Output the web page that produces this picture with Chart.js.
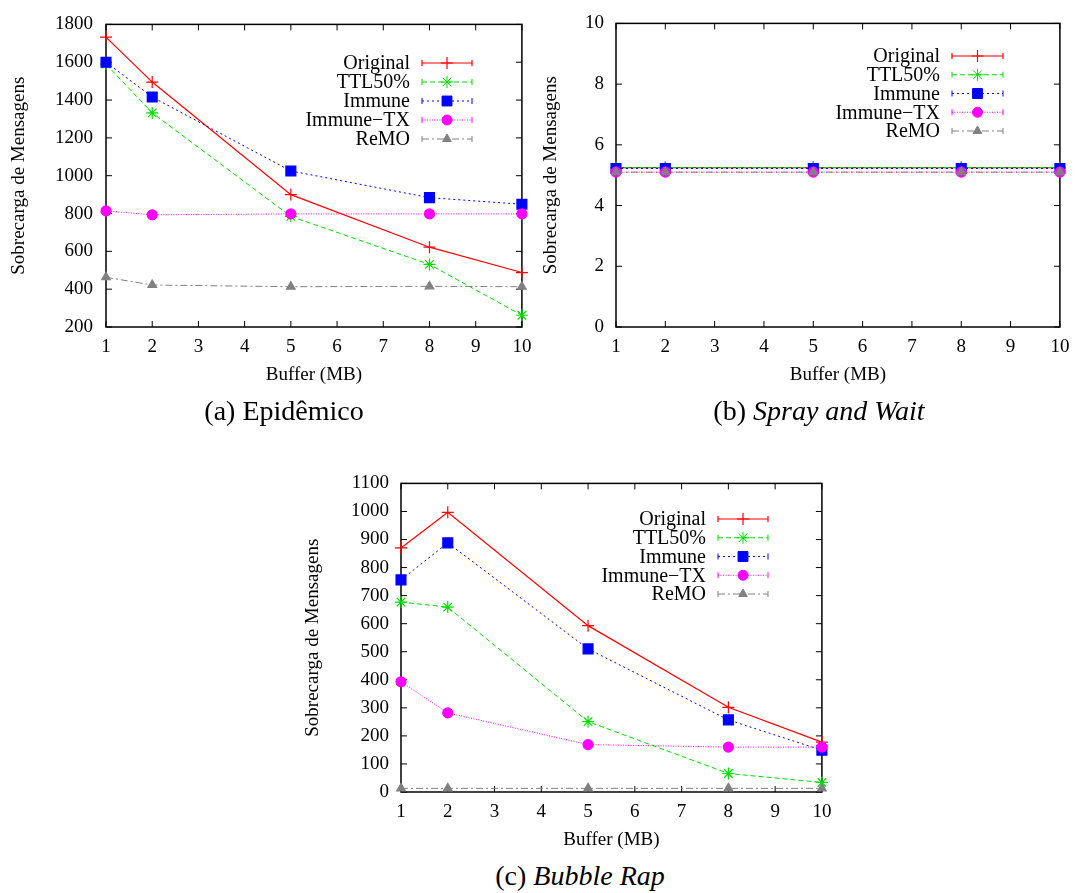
<!DOCTYPE html>
<html>
<head>
<meta charset="utf-8">
<script src="https://cdn.jsdelivr.net/npm/chart.js@4"></script>
<style>
  body { margin: 0; background: #fff; width: 1078px; height: 893px; position: relative; overflow: hidden; }
  canvas { position: absolute; }
  .cap { position: absolute; font-family: "Liberation Serif", "Times New Roman", serif; font-size: 28px; color: #000;
         transform: translateX(-50%); white-space: nowrap; line-height: 1; }
  .cap i { font-style: italic; }
</style>
</head>
<body>
<canvas id="epi" width="540" height="400" style="left:0px;top:0px"></canvas>
<canvas id="sw" width="538" height="400" style="left:540px;top:0px"></canvas>
<canvas id="br" width="540" height="400" style="left:300px;top:460px"></canvas>
<div class="cap" style="left:284px;top:397px">(a) Epidêmico</div>
<div class="cap" style="left:819px;top:397px">(b) <i>Spray and Wait</i></div>
<div class="cap" style="left:580px;top:862px">(c) <i>Bubble Rap</i></div>
<script>
// buffer sizes (MB) on the x axis
const buffers = [1, 2, 5, 8, 10];
const xTicks = [1, 2, 3, 4, 5, 6, 7, 8, 9, 10];
const seriesNames = ['Original', 'TTL50%', 'Immune', 'Immune\u2212TX', 'ReMO'];

// (a) Epidemico
const epiOriginal = [1733, 1495, 900, 622, 488];
const epiTTL50 = [1590, 1332, 785, 531, 262];
const epiImmune = [1600, 1416, 1025, 884, 849];
const epiImmuneTX = [814, 793, 798, 798, 798];
const epiReMO = [463, 422, 413, 415, 413];
const epiYTicks = [200, 400, 600, 800, 1000, 1200, 1400, 1600, 1800];

// (b) Spray and Wait
const swOriginal = [5.25, 5.25, 5.25, 5.25, 5.25];
const swTTL50 = [5.25, 5.25, 5.25, 5.25, 5.25];
const swImmune = [5.22, 5.22, 5.22, 5.22, 5.22];
const swImmuneTX = [5.1, 5.1, 5.1, 5.1, 5.1];
const swReMO = [5.1, 5.1, 5.1, 5.1, 5.1];
const swYTicks = [0, 2, 4, 6, 8, 10];

// (c) Bubble Rap
const brOriginal = [870, 997, 593, 302, 178];
const brTTL50 = [677, 659, 251, 66, 34];
const brImmune = [756, 888, 510, 257, 149];
const brImmuneTX = [393, 282, 169, 160, 160];
const brReMO = [13, 13, 13, 13, 13];
const brYTicks = [0, 100, 200, 300, 400, 500, 600, 700, 800, 900, 1000, 1100];

const FONT = '"Liberation Serif", "Times New Roman", serif';
Chart.defaults.font.family = FONT;
Chart.defaults.font.size = 19;
Chart.defaults.color = '#000';

// gnuplot-like line styles
const styles = [
  { color: '#ff0000', dash: [], point: 'cross', r: 6, w: 1.2 },
  { color: '#00dd00', dash: [5, 3], point: 'star', r: 6, w: 1 },
  { color: '#0000ff', dash: [2, 3], point: 'rect', r: 7, w: 1 },
  { color: '#ff00ff', dash: [1, 1.5], point: 'circle', r: 5, w: 1 },
  { color: '#808080', dash: [7, 3, 2, 3], point: 'triangle', r: 5, w: 1 }
];

// border box + inward ticks on all four sides
const frame = {
  id: 'frame',
  beforeDatasetsDraw(chart) {
    const { ctx, chartArea: a, scales: { x, y } } = chart;
    const t = 6;
    ctx.save();
    ctx.strokeStyle = '#000';
    ctx.lineWidth = 1;
    ctx.beginPath();
    x.ticks.forEach(tk => {
      const p = x.getPixelForValue(tk.value);
      ctx.moveTo(p, a.bottom); ctx.lineTo(p, a.bottom - t);
      ctx.moveTo(p, a.top); ctx.lineTo(p, a.top + t);
    });
    y.ticks.forEach(tk => {
      const p = y.getPixelForValue(tk.value);
      ctx.moveTo(a.left, p); ctx.lineTo(a.left + t, p);
      ctx.moveTo(a.right, p); ctx.lineTo(a.right - t, p);
    });
    ctx.stroke();
    ctx.lineWidth = 1.5;
    ctx.strokeRect(a.left, a.top, a.right - a.left, a.bottom - a.top);
    ctx.restore();
  }
};

// gnuplot style key: right aligned text, then sample line with marker and caps
const gpKey = {
  id: 'gpKey',
  afterDatasetsDraw(chart, args, o) {
    const ctx = chart.ctx;
    ctx.save();
    ctx.font = '20px ' + FONT;
    ctx.textAlign = 'right';
    ctx.textBaseline = 'middle';
    chart.data.datasets.forEach((ds, i) => {
      const yy = o.top + i * o.gap;
      ctx.fillStyle = '#000';
      ctx.fillText(ds.label, o.textRight, yy + 1);
      const x0 = o.textRight + 12, x1 = x0 + o.len;
      ctx.strokeStyle = ds.borderColor;
      ctx.lineWidth = ds.borderWidth;
      ctx.setLineDash(ds.borderDash);
      ctx.beginPath(); ctx.moveTo(x0, yy); ctx.lineTo(x1, yy); ctx.stroke();
      ctx.setLineDash([]);
      ctx.beginPath();
      ctx.moveTo(x0, yy - 3); ctx.lineTo(x0, yy + 3);
      ctx.moveTo(x1, yy - 3); ctx.lineTo(x1, yy + 3);
      ctx.stroke();
      ctx.fillStyle = ds.pointBackgroundColor;
      ctx.strokeStyle = ds.pointBorderColor;
      Chart.helpers.drawPoint(ctx, { pointStyle: ds.pointStyle, radius: ds.pointRadius,
        borderWidth: ds.pointBorderWidth, rotation: 0 }, (x0 + x1) / 2, yy);
    });
    ctx.restore();
  }
};

function makeChart(id, series, yTicks, L) {
  const datasets = series.map((vals, i) => {
    const s = styles[i];
    return {
      label: seriesNames[i],
      data: buffers.map((b, k) => ({ x: b, y: vals[k] })),
      borderColor: s.color,
      backgroundColor: s.color,
      borderWidth: s.w,
      borderDash: s.dash,
      pointStyle: s.point,
      pointRadius: s.r,
      pointBorderWidth: 1.2,
      pointBackgroundColor: s.color,
      pointBorderColor: s.color,
      tension: 0,
      clip: false,
      order: series.length - i
    };
  });
  new Chart(document.getElementById(id), {
    type: 'line',
    data: { datasets },
    options: {
      responsive: false,
      animation: false,
      devicePixelRatio: 1,
      layout: { padding: { left: 0, right: L.padRight, top: L.padTop, bottom: 0 } },
      plugins: {
        legend: { display: false },
        tooltip: { enabled: false },
        gpKey: L.key
      },
      scales: {
        x: {
          type: 'linear',
          min: 1, max: 10,
          afterBuildTicks: s => { s.ticks = xTicks.map(v => ({ value: v })); },
          afterFit: s => { s.height = L.xHeight; },
          grid: { display: false, drawTicks: false },
          border: { display: false },
          ticks: { padding: L.xTickPad, maxRotation: 0, color: '#000', callback: v => String(v) },
          title: { display: true, text: 'Buffer (MB)', color: '#000', padding: { bottom: L.xTitlePad, top: 0 } }
        },
        y: {
          type: 'linear',
          min: yTicks[0], max: yTicks[yTicks.length - 1],
          afterBuildTicks: s => { s.ticks = yTicks.map(v => ({ value: v })); },
          afterFit: s => { s.width = L.yWidth; },
          grid: { display: false, drawTicks: false },
          border: { display: false },
          ticks: { padding: L.yLabelPad, color: '#000', callback: v => String(v) },
          title: { display: true, text: 'Sobrecarga de Mensagens', color: '#000', padding: { top: L.yTitlePad, bottom: 0 } }
        }
      }
    },
    plugins: [frame, gpKey]
  });
}

makeChart('epi', [epiOriginal, epiTTL50, epiImmune, epiImmuneTX, epiReMO], epiYTicks, {
  yWidth: 106, padRight: 9, padTop: 16, xHeight: 73,
  yLabelPad: 13, yTitlePad: 7.6, xTickPad: 8.6, xTitlePad: 13.6,
  key: { textRight: 410, top: 63, gap: 19, len: 50 }
});

makeChart('sw', [swOriginal, swTTL50, swImmune, swImmuneTX, swReMO], swYTicks, {
  yWidth: 76, padRight: 15, padTop: 16, xHeight: 73,
  yLabelPad: 12, yTitlePad: 0, xTickPad: 8.6, xTitlePad: 13.6,
  key: { textRight: 400, top: 56, gap: 18.75, len: 51 }
});

makeChart('br', [brOriginal, brTTL50, brImmune, brImmuneTX, brReMO], brYTicks, {
  yWidth: 101, padRight: 15, padTop: 21, xHeight: 68,
  yLabelPad: 12, yTitlePad: 1.6, xTickPad: 8.6, xTitlePad: 8.6,
  key: { textRight: 406, top: 59, gap: 18.75, len: 50 }
});
</script>
</body>
</html>
